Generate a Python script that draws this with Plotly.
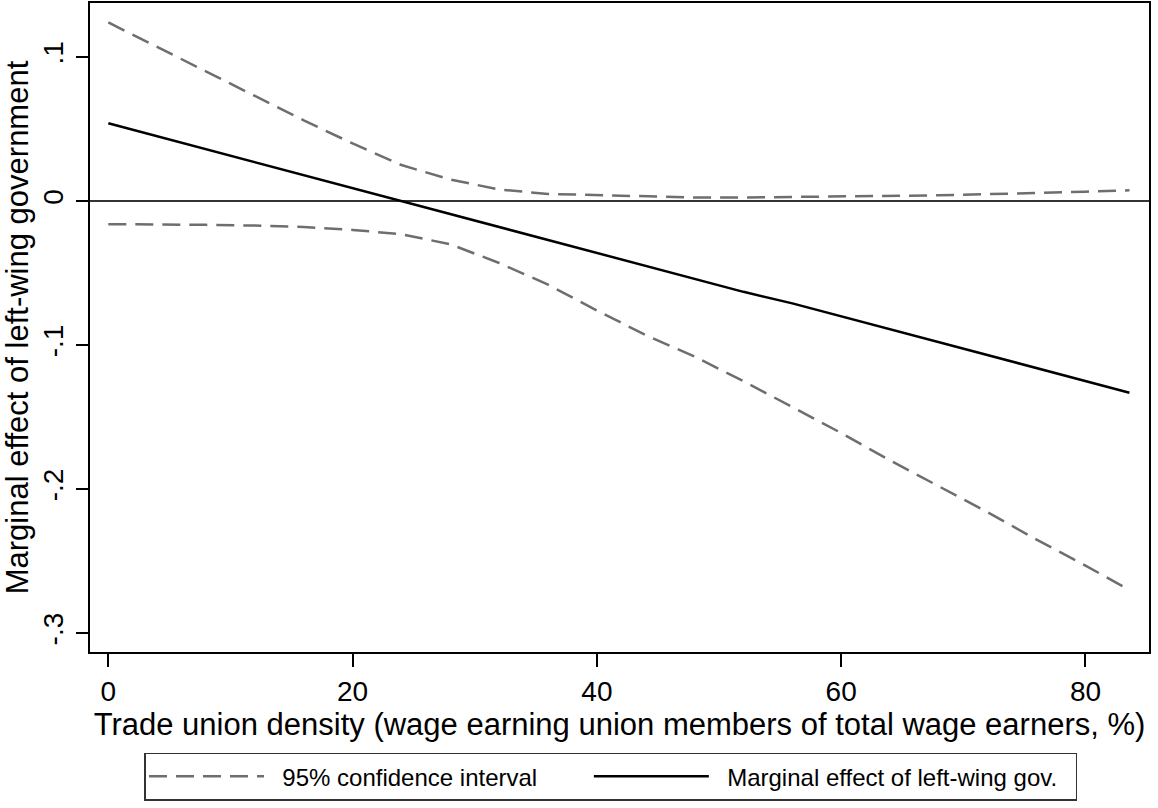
import plotly.graph_objects as go

density = [0, 4, 8, 12, 16, 20, 24, 28, 32, 36, 40, 44, 48, 52, 56, 60, 64, 68, 72, 76, 80, 83.6]
effect = [0.054, 0.045, 0.036, 0.027, 0.018, 0.009, 0.0, -0.009, -0.018, -0.027, -0.036,
          -0.045, -0.054, -0.063, -0.071, -0.080, -0.089, -0.098, -0.107, -0.116, -0.125, -0.133]
ci_upper = [0.124, 0.107, 0.090, 0.073, 0.056, 0.040, 0.025, 0.015, 0.008, 0.005, 0.004,
            0.003, 0.0025, 0.0025, 0.0028, 0.003, 0.0035, 0.004, 0.0048, 0.0055, 0.0065, 0.0075]
ci_lower = [-0.016, -0.016, -0.0165, -0.017, -0.018, -0.020, -0.023, -0.030, -0.043, -0.058, -0.076,
            -0.093, -0.108, -0.125, -0.143, -0.161, -0.180, -0.198, -0.216, -0.235, -0.253, -0.270]

x_ticks = [0, 20, 40, 60, 80]
y_ticks = [0.1, 0, -0.1, -0.2, -0.3]
y_tick_labels = [".1", "0", "-.1", "-.2", "-.3"]

FONT = "Liberation Sans, Arial, sans-serif"
dash = "18px,9px"
gray = "#6e6e6e"
NB = "\u00a0"

fig = go.Figure()
fig.add_trace(go.Scatter(x=density, y=ci_upper, mode="lines",
                         name=NB * 2 + "95% confidence interval" + NB * 7,
                         legendgroup="ci", showlegend=True,
                         line=dict(color=gray, width=2.5, dash=dash)))
fig.add_trace(go.Scatter(x=density, y=ci_lower, mode="lines", name="95% confidence interval",
                         legendgroup="ci", showlegend=False,
                         line=dict(color=gray, width=2.5, dash=dash)))
fig.add_trace(go.Scatter(x=density, y=effect, mode="lines",
                         name=NB * 2 + "Marginal effect of left-wing gov." + NB * 2,
                         line=dict(color="black", width=2.5)))

fig.update_layout(
    width=1158, height=808,
    margin=dict(l=90, r=9, t=3, b=156, autoexpand=False),
    paper_bgcolor="white", plot_bgcolor="white",
    font=dict(family=FONT, color="black", size=28),
    legend=dict(orientation="h", x=0.051, xanchor="left", y=-0.155, yanchor="top",
                bordercolor="#333333", borderwidth=1.5, bgcolor="white",
                font=dict(size=24, family=FONT), itemwidth=115,
                tracegroupgap=0),
    xaxis=dict(range=[-1.5, 85.2], tickmode="array", tickvals=x_ticks,
               ticks="outside", ticklen=13, tickwidth=1.5, tickcolor="black",
               ticklabelstandoff=0,
               showline=True, linecolor="black", linewidth=2, mirror=True,
               showgrid=False, zeroline=False, automargin=False,
               tickfont=dict(size=28),
               title=dict(text="Trade union density (wage earning union members of total wage earners, %)",
                          font=dict(size=31), standoff=6)),
    yaxis=dict(range=[-0.313, 0.1375], tickmode="array", tickvals=y_ticks, ticktext=y_tick_labels,
               ticks="outside", ticklen=12, tickwidth=1.5, tickcolor="black", tickangle=-90,
               ticklabelstandoff=2,
               showline=True, linecolor="black", linewidth=2, mirror=True,
               showgrid=False, zeroline=True, zerolinecolor="#333333", zerolinewidth=1.5,
               automargin=False,
               tickfont=dict(size=28),
               title=dict(text="Marginal effect of left-wing government", font=dict(size=31), standoff=2)),
)

fig.write_html("out.html", config={"displayModeBar": False},
               post_script="document.body.style.margin='0px';")
